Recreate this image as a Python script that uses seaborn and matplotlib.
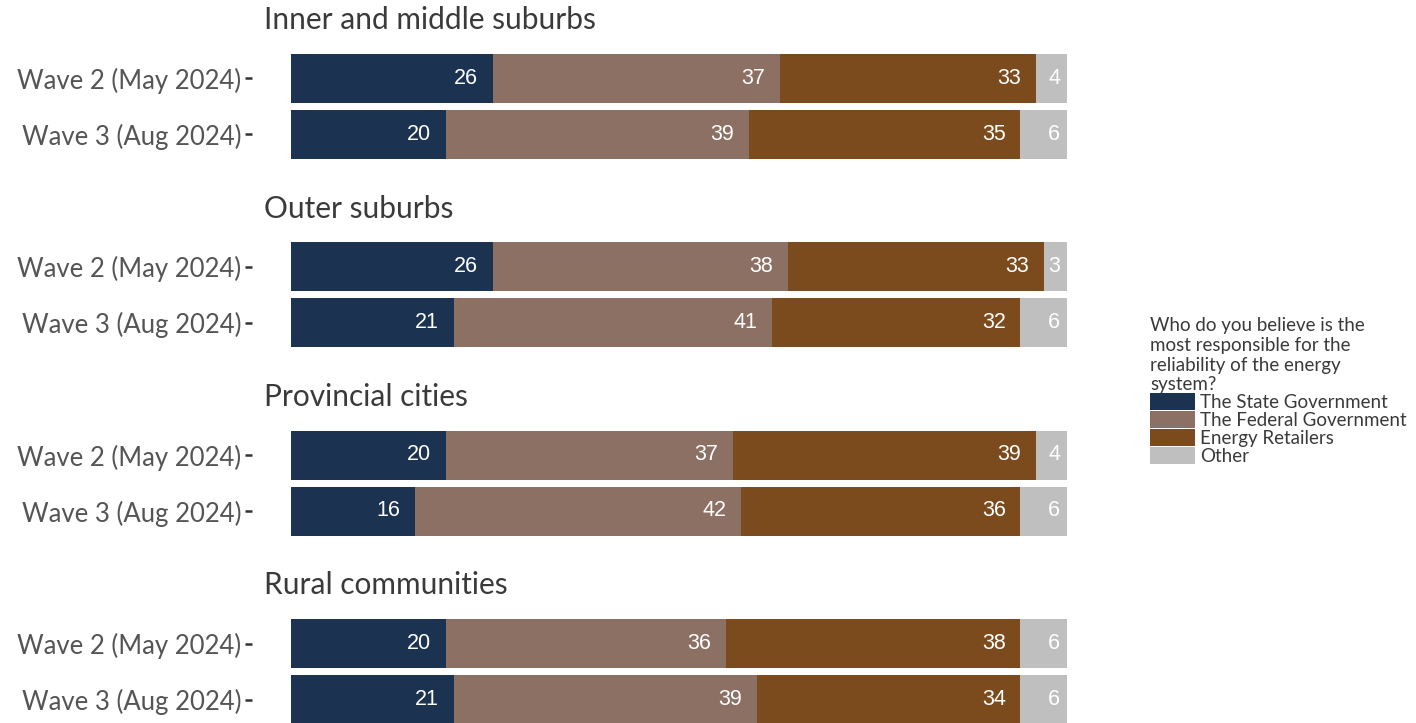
import pandas as pd
import seaborn as sns
import matplotlib.pyplot as plt
from matplotlib.patches import Patch

# data (percent)
regions = ["Inner and middle suburbs", "Outer suburbs", "Provincial cities", "Rural communities"]
waves = ["Wave 2 (May 2024)", "Wave 3 (Aug 2024)"]
responses = ["The State Government", "The Federal Government", "Energy Retailers", "Other"]
state = [[26, 20], [26, 21], [20, 16], [20, 21]]
federal = [[37, 39], [38, 41], [37, 42], [36, 39]]
retailers = [[33, 35], [33, 32], [39, 36], [38, 34]]
other = [[4, 6], [3, 6], [4, 6], [6, 6]]
colors = ["#1b3350", "#8b7063", "#7b4a1d", "#bfbfbf"]

rows = []
for r, region in enumerate(regions):
    for w, wave in enumerate(waves):
        vals = [state[r][w], federal[r][w], retailers[r][w], other[r][w]]
        cum = 0
        for k, resp in enumerate(responses):
            cum += vals[k]
            rows.append(dict(region=region, wave=wave, response=resp, value=vals[k], cum=cum))
df = pd.DataFrame(rows)

sns.set_style("white")
plt.rcParams["font.family"] = ["Lato", "DejaVu Sans"]

W, H = 1416, 723
fig = plt.figure(figsize=(W / 100, H / 100), dpi=100)

# label inset from the segment end (x units); the narrow "Other" sits closer
inset = {"The State Government": 1.9, "The Federal Government": 1.9,
         "Energy Retailers": 1.9, "Other": 0.9}

step = 188.5
for i, region in enumerate(regions):
    top = 44.4 + step * i
    ax = fig.add_axes([252.2 / W, 1 - (top + 123.2) / H, 853.6 / W, 123.2 / H])
    sub = df[df.region == region]
    # draw cumulative layers from the last response back to the first
    for k in range(len(responses) - 1, -1, -1):
        layer = sub[sub.response == responses[k]]
        sns.barplot(data=layer, x="cum", y="wave", order=waves, color=colors[k],
                    saturation=1, width=0.875, errorbar=None, linewidth=0, ax=ax)
    for _, row in sub.iterrows():
        y = waves.index(row["wave"])
        ax.text(row["cum"] - inset[row["response"]], y, str(row["value"]),
                ha="right", va="center", color="white", fontsize=15.5,
                family="Liberation Sans")
    ax.set_xlim(-5, 105)
    ax.set_ylim(1.6, -0.6)
    ax.set_xlabel("")
    ax.set_ylabel("")
    ax.set_xticks([])
    sns.despine(ax=ax, left=True, bottom=True)
    ax.tick_params(axis="y", left=True, length=5, width=1.8, color="#333333",
                   pad=3, labelsize=18.5, labelcolor="#555555")
    fig.text(264 / W, 1 - (20 + step * i) / H, region, ha="left", va="center",
             fontsize=21.5, color="#3a3a3a")

handles = [Patch(facecolor=c, linewidth=0) for c in colors]
leg = fig.legend(handles, responses, loc="upper left",
                 bbox_to_anchor=(1150 / W, 1 - 317 / H), frameon=False,
                 title="Who do you believe is the\nmost responsible for the\nreliability of the energy\nsystem?",
                 fontsize=13.5, title_fontsize=13.5, handlelength=2.4, handleheight=1.0,
                 labelspacing=0, handletextpad=0.25, borderpad=0, borderaxespad=0)
leg._legend_box.align = "left"
leg.get_title().set_linespacing(1.2)
for t in leg.get_texts():
    t.set_color("#3a3a3a")
leg.get_title().set_color("#3a3a3a")

fig.savefig("out.png", dpi=100)
